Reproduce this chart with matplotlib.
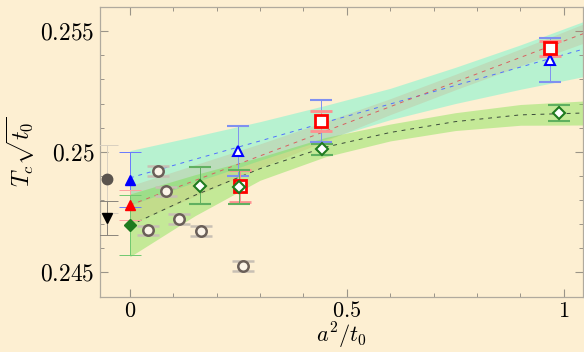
import matplotlib
matplotlib.use('Agg')
import matplotlib.pyplot as plt
import numpy as np

plt.rcParams['font.family'] = 'serif'
plt.rcParams['font.serif'] = ['cmr10']
plt.rcParams['mathtext.fontset'] = 'cm'
plt.rcParams['axes.unicode_minus'] = False

bg = '#fdefd2'

# reference values at a^2/t0 -> 0 (left of the axis)
ref_x = [-0.052, -0.052]
ref_y = [0.24888, 0.24726]
ref_err = [0.0014, 0.0007]

# continuum values at x = 0
cont_y = [0.24885, 0.24779, 0.24696]
cont_err = [0.00115, 0.00062, 0.00125]

# open circles
circ_x = [0.041, 0.064, 0.083, 0.114, 0.164, 0.260]
circ_y = [0.24674, 0.24921, 0.24836, 0.24722, 0.24671, 0.24527]
circ_err = [0.0002, 0.0002, 0.0002, 0.0002, 0.0002, 0.0002]

# open triangles (blue)
tri_x = [0.2496, 0.440, 0.969]
tri_y = [0.25003, 0.25128, 0.25380]
tri_err = [0.00102, 0.00086, 0.00091]

# open squares (red)
sq_x = [0.253, 0.440, 0.968]
sq_y = [0.24858, 0.25129, 0.25429]
sq_err = [0.00066, 0.00042, 0.00030]

# open diamonds (green)
dia_x = [0.161, 0.252, 0.443, 0.988]
dia_y = [0.24859, 0.24855, 0.25010, 0.25162]
dia_err = [0.00076, 0.00070, 0.00023, 0.00034]

# fit bands
fit_x = [0, 0.15, 0.3, 0.45, 0.6, 0.75, 0.9, 1.05]
blue_c = [0.24892, 0.24969, 0.25045, 0.25122, 0.25198, 0.25275, 0.25351, 0.25428]
blue_w = [0.00113, 0.00095, 0.0008, 0.0007, 0.00065, 0.00075, 0.00092, 0.00115]
red_c = [0.24779, 0.24881, 0.24983, 0.25085, 0.25187, 0.25289, 0.25391, 0.25493]
red_w = [0.0008, 0.00065, 0.0005, 0.0004, 0.00033, 0.00032, 0.00035, 0.0004]
green_c = [0.24695, 0.24820, 0.24930, 0.25019, 0.25080, 0.25125, 0.25153, 0.25161]
green_w = [0.0013, 0.00085, 0.00048, 0.0004, 0.00035, 0.00037, 0.00043, 0.0005]

fig = plt.figure(figsize=(5.84, 3.52), dpi=100, facecolor=bg)
ax = fig.add_axes([0.1712, 0.1562, 0.8268, 0.8238], facecolor=bg)

fx = np.array(fit_x)
ax.fill_between(fx, np.array(blue_c) - blue_w, np.array(blue_c) + blue_w,
                color='#7ff5d0', alpha=0.55, lw=0, zorder=1)
ax.fill_between(fx, np.array(red_c) - red_w, np.array(red_c) + red_w,
                color='#e05030', alpha=0.13, lw=0, zorder=2)
ax.fill_between(fx, np.array(green_c) - green_w, np.array(green_c) + green_w,
                color='#70e040', alpha=0.4, lw=0, zorder=2)
ax.plot(fx, blue_c, color='#5070ff', ls=(0, (4, 5)), lw=0.7, zorder=3)
ax.plot(fx, red_c, color='#d86060', ls=(0, (4, 5)), lw=0.7, zorder=3)
ax.plot(fx, green_c, color='#3a4a3a', ls=(0, (4, 5)), lw=0.7, zorder=3)

cs = 8
eb = dict(capsize=cs, elinewidth=0.7, capthick=0.7, ls='none', zorder=5)

# reference
ax.errorbar(ref_x[0], ref_y[0], yerr=ref_err[0], fmt='o', ms=7.5, color='#5a544e',
            ecolor='#d8d0c0', **eb)
ax.errorbar(ref_x[1], ref_y[1], yerr=ref_err[1], fmt='v', ms=7.5, color='black',
            ecolor='#8a847c', **eb)

# continuum at x=0
ax.errorbar([0], cont_y[0], yerr=cont_err[0], fmt='^', ms=7.5, color='blue',
            ecolor='#6878ff', **eb)
ax.errorbar([0], cont_y[1], yerr=cont_err[1], fmt='^', ms=7.5, color='red',
            ecolor='#ffa0a0', **eb)
ax.errorbar([0], cont_y[2], yerr=cont_err[2], fmt='D', ms=6, color='#1f7a1f',
            ecolor='#70c870', **eb)

ax.errorbar(circ_x, circ_y, yerr=circ_err, fmt='o', ms=7.5, mfc='#fbf4e8',
            mec='#6a5f58', mew=1.8, ecolor='#c8c0b4', **eb)
ax.errorbar(tri_x, tri_y, yerr=tri_err, fmt='^', ms=7.5, mfc='white',
            mec='blue', mew=1.5, ecolor='#8090f0', **eb)
ax.errorbar(sq_x, sq_y, yerr=sq_err, fmt='s', ms=8, mfc='white',
            mec='red', mew=2, ecolor='#ff9090', **eb)
ax.errorbar(dia_x, dia_y, yerr=dia_err, fmt='D', ms=6, mfc='white',
            mec='#1f7a1f', mew=1.5, ecolor='#60b060', **eb)

ax.set_xlim(-0.069, 1.044)
ax.set_ylim(0.24398, 0.25600)
ax.set_xticks([0, 0.5, 1], labels=['$0$', '$0.5$', '$1$'])
ax.set_xticks(np.arange(0, 1.05, 0.1), minor=True)
ax.set_yticks([0.245, 0.25, 0.255], labels=['$0.245$', '$0.25$', '$0.255$'])
ax.set_yticks(np.arange(0.244, 0.2561, 0.001), minor=True)
ax.tick_params(which='both', direction='in', top=True, right=True,
               color='#9a9488', labelsize=17)
ax.tick_params(which='major', length=6, width=0.8, pad=4)
ax.tick_params(which='minor', length=3, width=0.7)
ax.tick_params(axis='x', which='major', labelsize=16, pad=3)
for s in ax.spines.values():
    s.set_color('#b0aa9e')
    s.set_linewidth(0.9)

ax.set_xlabel('$a^2/t_0$', fontsize=16, labelpad=0)
ax.set_ylabel(r'$T_c\sqrt{t_0}$', fontsize=17, labelpad=2)

fig.savefig('out.png', dpi=100, facecolor=bg)
